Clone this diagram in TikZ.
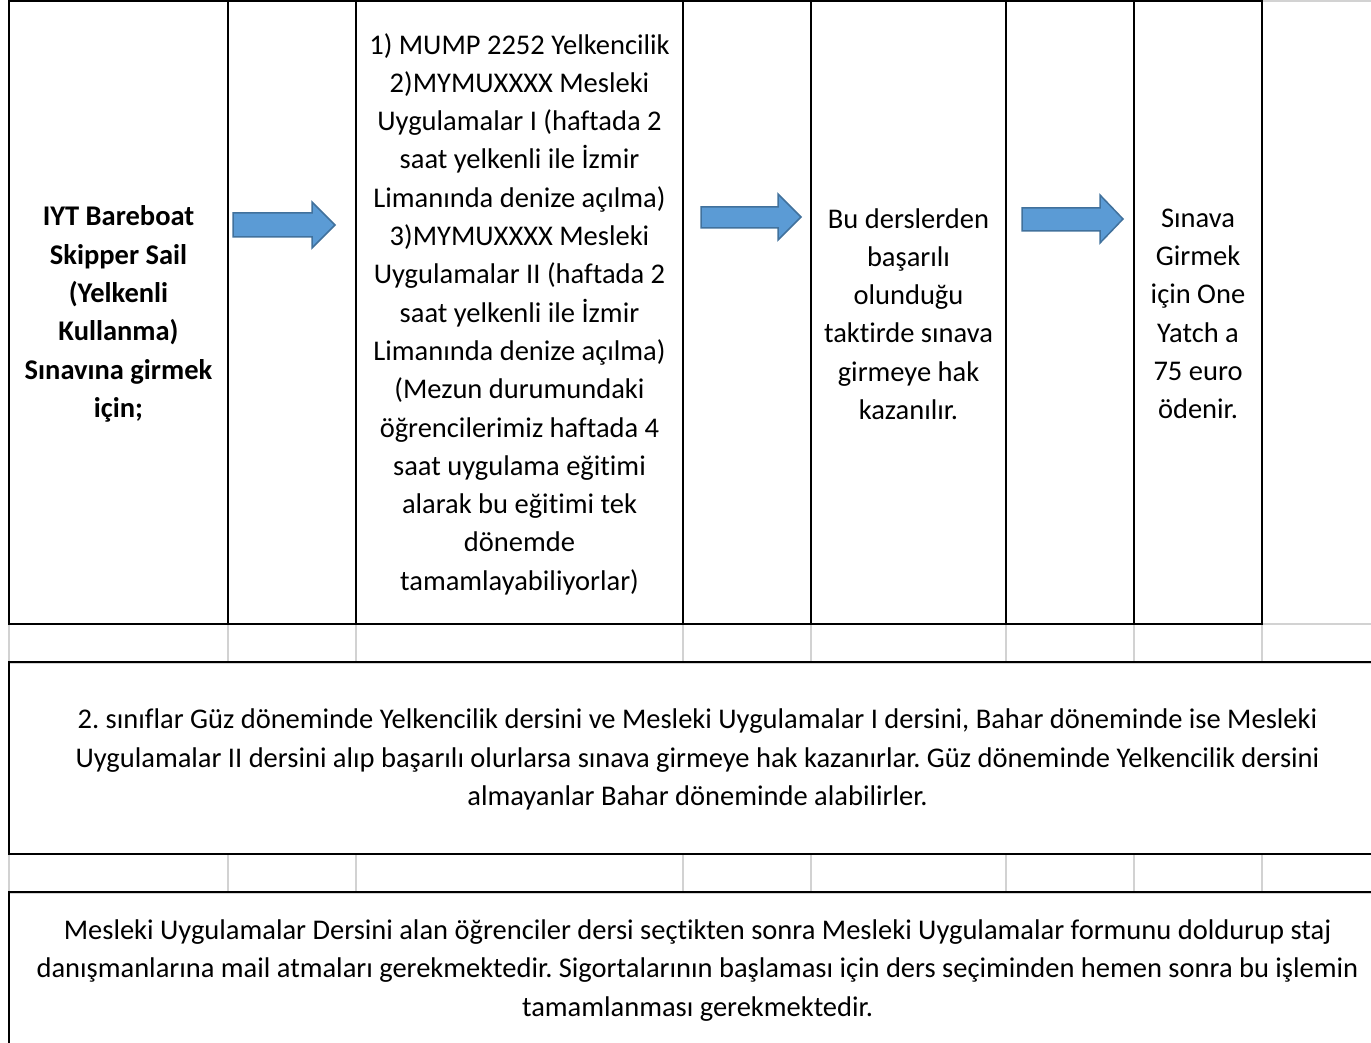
\documentclass[tikz,border=0pt]{standalone}
\usepackage{fontspec}
\setmainfont{Carlito}[Ligatures={NoCommon},RawFeature={-liga;-dlig;-clig}]
\frenchspacing
\begin{document}
\begin{tikzpicture}[x=1pt,y=-1pt,
  cellline/.style={line width=2pt,black},
  gridline/.style={line width=1.3pt,gray!35},
  arrowshape/.style={fill={rgb,255:red,91;green,155;blue,213},draw={rgb,255:red,65;green,113;blue,156},line width=1.5pt,line join=miter},
  celltext/.style={align=center,inner sep=0pt,font=\fontsize{28.5}{38.3}\selectfont},
]
\useasboundingbox (0,0) rectangle (1371,1043);
% gray grid in gaps
\foreach \x in {9,228,356,683,811,1006,1134,1262}{
  \draw[gridline] (\x,624) -- (\x,662);
  \draw[gridline] (\x,854) -- (\x,892);
}
\draw[gridline] (1262,1) -- (1380,1);
\draw[gridline] (1262,624) -- (1380,624);
\draw[gridline] (9,663.5) -- (1380,663.5);
\draw[gridline] (9,893.5) -- (1380,893.5);
% top row cells
\draw[cellline] (9,1) rectangle (1262,624);
\foreach \x in {228,356,683,811,1006,1134}{
  \draw[cellline] (\x,1) -- (\x,624);
}
% boxes
\draw[cellline] (9,662) rectangle (1390,854);
\draw[cellline] (9,892) rectangle (1390,1046);

% texts
\node[celltext,font=\fontsize{28.5}{38.3}\selectfont\bfseries] (c1) at (118.5,314)
 {IYT Bareboat\\Skipper Sail\\(Yelkenli\\Kullanma)\\Sınavına girmek\\için;};
\node[celltext] (c3) at (519.5,314)
 {1) MUMP 2252 Yelkencilik\\2)MYMUXXXX Mesleki\\Uygulamalar I (haftada 2\\saat yelkenli ile İzmir\\Limanında denize açılma)\\3)MYMUXXXX Mesleki\\Uygulamalar II (haftada 2\\saat yelkenli ile İzmir\\Limanında denize açılma)\\(Mezun durumundaki\\öğrencilerimiz haftada 4\\saat uygulama eğitimi\\alarak bu eğitimi tek\\dönemde\\tamamlayabiliyorlar)};
\node[celltext] (c5) at (908.5,314)
 {Bu derslerden\\başarılı\\olunduğu\\taktirde sınava\\girmeye hak\\kazanılır.};
\node[celltext] (c7) at (1198,314)
 {Sınava\\Girmek\\için One\\Yatch a\\75 euro\\ödenir.};
\node[celltext] (b2) at (697.5,759.5)
 {2. sınıflar Güz döneminde Yelkencilik dersini ve Mesleki Uygulamalar I dersini, Bahar döneminde ise Mesleki\\Uygulamalar II dersini alıp başarılı olurlarsa sınava girmeye hak kazanırlar. Güz döneminde Yelkencilik dersini\\almayanlar Bahar döneminde alabilirler.};
\node[celltext] (b3) at (697.5,970.5)
 {Mesleki Uygulamalar Dersini alan öğrenciler dersi seçtikten sonra Mesleki Uygulamalar formunu doldurup staj\\danışmanlarına mail atmaları gerekmektedir. Sigortalarının başlaması için ders seçiminden hemen sonra bu işlemin\\tamamlanması gerekmektedir.};

% arrows
\draw[arrowshape] (233,213) -- (312,213) -- (312,202) -- (335,225) -- (312,248) -- (312,237) -- (233,237) -- cycle;
\draw[arrowshape] (701,207) -- (778,207) -- (778,194) -- (801,217) -- (778,240) -- (778,228) -- (701,228) -- cycle;
\draw[arrowshape] (1022,208) -- (1100,208) -- (1100,195) -- (1123,219) -- (1100,243) -- (1100,231) -- (1022,231) -- cycle;
\end{tikzpicture}
\end{document}
